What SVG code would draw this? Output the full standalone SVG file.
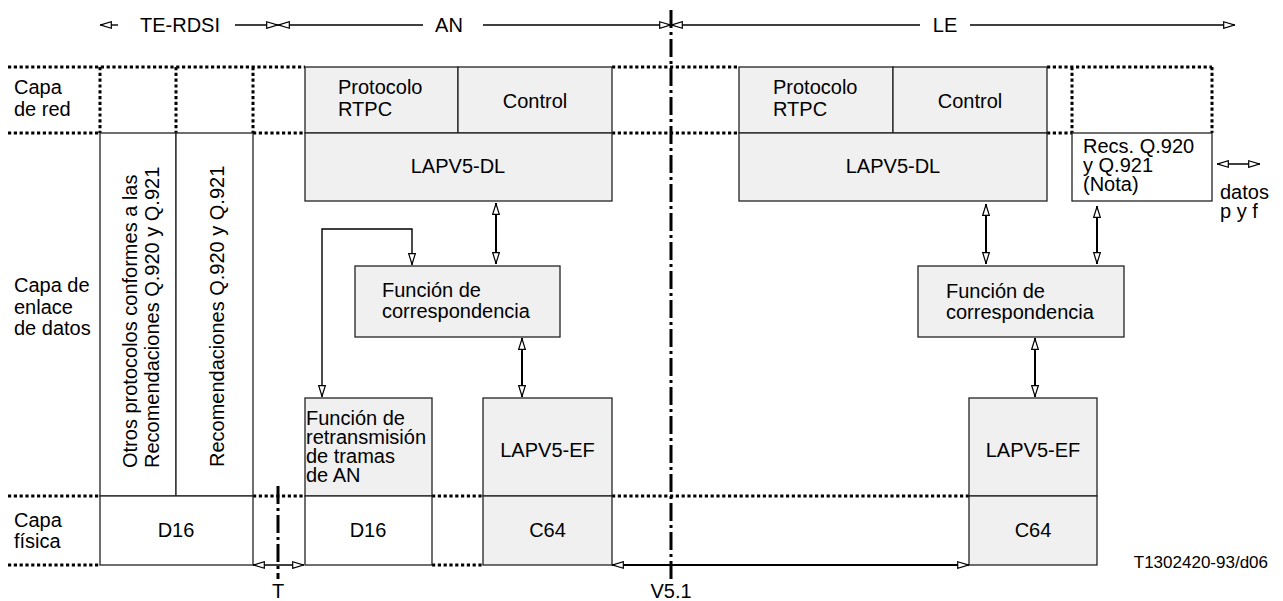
<svg xmlns="http://www.w3.org/2000/svg" width="1283" height="601" viewBox="0 0 1283 601">
<style>
text{font-family:"Liberation Sans",Arial,sans-serif;font-size:20px;fill:#000}
.c{text-anchor:middle}
.g{fill:#f0f0f0;stroke:#222;stroke-width:1.3}
.w{fill:#fff;stroke:#222;stroke-width:1.3}
.dot{fill:none;stroke:#000;stroke-width:3;stroke-dasharray:3.2 2.6}
.dd{fill:none;stroke:#000;stroke-width:3;stroke-dasharray:18 4 3 4}
.thin{fill:none;stroke:#000;stroke-width:1.4}
.thick{fill:none;stroke:#000;stroke-width:2}
</style>
<defs>
<marker id="ah" viewBox="0 0 12 8" refX="12" refY="4" markerWidth="12" markerHeight="8" orient="auto-start-reverse" markerUnits="userSpaceOnUse">
<path d="M0.7,0.7 L11.3,4 L0.7,7.3 Z" fill="#fff" stroke="#000" stroke-width="1.2"/>
</marker>
</defs>
<g id="layers">
<path class="dot" d="M8,67 H305 M612,67 H739 M1047,67 H1212 M100,67 V133 M176,67 V133 M253,67 V133 M1072,67 V133 M1212,67 V133 M8,133 H100 M253,133 H305 M612,133 H739 M1047,133 H1072 M8,496 H100 M253,496 H305 M432,496 H483 M612,496 H969 M8,565 H100 M432,565 H483"/>
<path class="dd" d="M671,10 V579 M278,486 V579"/>
<text x="14" y="94">Capa</text><text x="14" y="116">de red</text>
<text x="14" y="292">Capa de</text><text x="14" y="314">enlace</text><text x="14" y="335">de datos</text>
<text x="14" y="527">Capa</text><text x="14" y="548">física</text>
<text class="c" x="278" y="598">T</text>
<text class="c" x="671" y="598">V5.1</text>
<text x="1268" y="568" style="text-anchor:end;font-size:17px">T1302420-93/d06</text>
</g>
<g id="header">
<text class="c" x="180" y="32">TE-RDSI</text>
<text class="c" x="449" y="32">AN</text>
<text class="c" x="945" y="32">LE</text>
</g>
<g id="te-otros"><rect class="w" x="100" y="133" width="76" height="363"/>
<text transform="translate(137,468) rotate(-90)">Otros protocolos conformes a las</text>
<text transform="translate(159,468) rotate(-90)">Recomendaciones Q.920 y Q.921</text></g>
<g id="te-rec"><rect class="w" x="176" y="133" width="77" height="363"/>
<text transform="translate(224,467) rotate(-90)">Recomendaciones Q.920 y Q.921</text></g>
<g id="te-d16"><rect class="w" x="100" y="496" width="153" height="69"/><text class="c" x="176" y="537">D16</text></g>
<g id="an-rtpc"><rect class="g" x="305" y="67" width="153" height="66"/><text x="338" y="94">Protocolo</text><text x="338" y="116">RTPC</text></g>
<g id="an-control"><rect class="g" x="458" y="67" width="154" height="66"/><text class="c" x="535" y="108">Control</text></g>
<g id="an-dl"><rect class="g" x="305" y="133" width="307" height="68"/><text class="c" x="458" y="173">LAPV5-DL</text></g>
<g id="an-corr"><rect class="g" x="355" y="266" width="205" height="71"/><text x="382" y="297">Función de</text><text x="382" y="318">correspondencia</text></g>
<g id="an-retrans"><rect class="g" x="305" y="398" width="127" height="98"/><text x="306" y="425">Función de</text><text x="306" y="444">retransmisión</text><text x="306" y="463">de tramas</text><text x="306" y="482">de AN</text></g>
<g id="an-ef"><rect class="g" x="483" y="398" width="129" height="98"/><text class="c" x="547.5" y="457">LAPV5-EF</text></g>
<g id="an-d16"><rect class="w" x="305" y="496" width="127" height="69"/><text class="c" x="368" y="537">D16</text></g>
<g id="an-c64"><rect class="g" x="483" y="496" width="129" height="69"/><text class="c" x="547.5" y="537">C64</text></g>
<g id="le-rtpc"><rect class="g" x="739" y="67" width="154" height="66"/><text x="773" y="94">Protocolo</text><text x="773" y="116">RTPC</text></g>
<g id="le-control"><rect class="g" x="893" y="67" width="154" height="66"/><text class="c" x="970" y="108">Control</text></g>
<g id="le-dl"><rect class="g" x="739" y="133" width="308" height="68"/><text class="c" x="893" y="173">LAPV5-DL</text></g>
<g id="le-recs"><rect class="w" x="1072" y="133" width="140" height="68"/><text x="1083" y="153">Recs. Q.920</text><text x="1083" y="172">y Q.921</text><text x="1083" y="191">(Nota)</text></g>
<g id="le-datos"><text x="1220" y="199">datos</text><text x="1220" y="218">p y f</text></g>
<g id="le-corr"><rect class="g" x="918" y="266" width="206" height="71"/><text x="946" y="298">Función de</text><text x="946" y="319">correspondencia</text></g>
<g id="le-ef"><rect class="g" x="969" y="398" width="128" height="98"/><text class="c" x="1033" y="457">LAPV5-EF</text></g>
<g id="le-c64"><rect class="g" x="969" y="496" width="128" height="69"/><text class="c" x="1033" y="537">C64</text></g>
<g id="connectors">
<path class="thin" d="M118,25 H100" marker-end="url(#ah)"/>
<path class="thin" d="M235,25 H278" marker-end="url(#ah)"/>
<path class="thin" d="M423,25 H278" marker-end="url(#ah)"/>
<path class="thin" d="M483,25 H671" marker-end="url(#ah)"/>
<path class="thin" d="M920,25 H671" marker-end="url(#ah)"/>
<path class="thin" d="M970,25 H1235" marker-end="url(#ah)"/>
<path class="thin" d="M1217,164 H1260" marker-start="url(#ah)" marker-end="url(#ah)"/>
<path class="thick" d="M496,203 V264" marker-start="url(#ah)" marker-end="url(#ah)"/>
<path class="thick" d="M522,338 V397" marker-start="url(#ah)" marker-end="url(#ah)"/>
<path class="thin" d="M412,265 V229 H322 V397" marker-start="url(#ah)" marker-end="url(#ah)"/>
<path class="thick" d="M986,204 V264" marker-start="url(#ah)" marker-end="url(#ah)"/>
<path class="thick" d="M1097,206 V264" marker-start="url(#ah)" marker-end="url(#ah)"/>
<path class="thick" d="M1035,338 V397" marker-start="url(#ah)" marker-end="url(#ah)"/>
<path class="thin" d="M253,565 H304" marker-start="url(#ah)" marker-end="url(#ah)"/>
<path class="thick" d="M612,565 H969" marker-start="url(#ah)" marker-end="url(#ah)"/>
</g>
</svg>
